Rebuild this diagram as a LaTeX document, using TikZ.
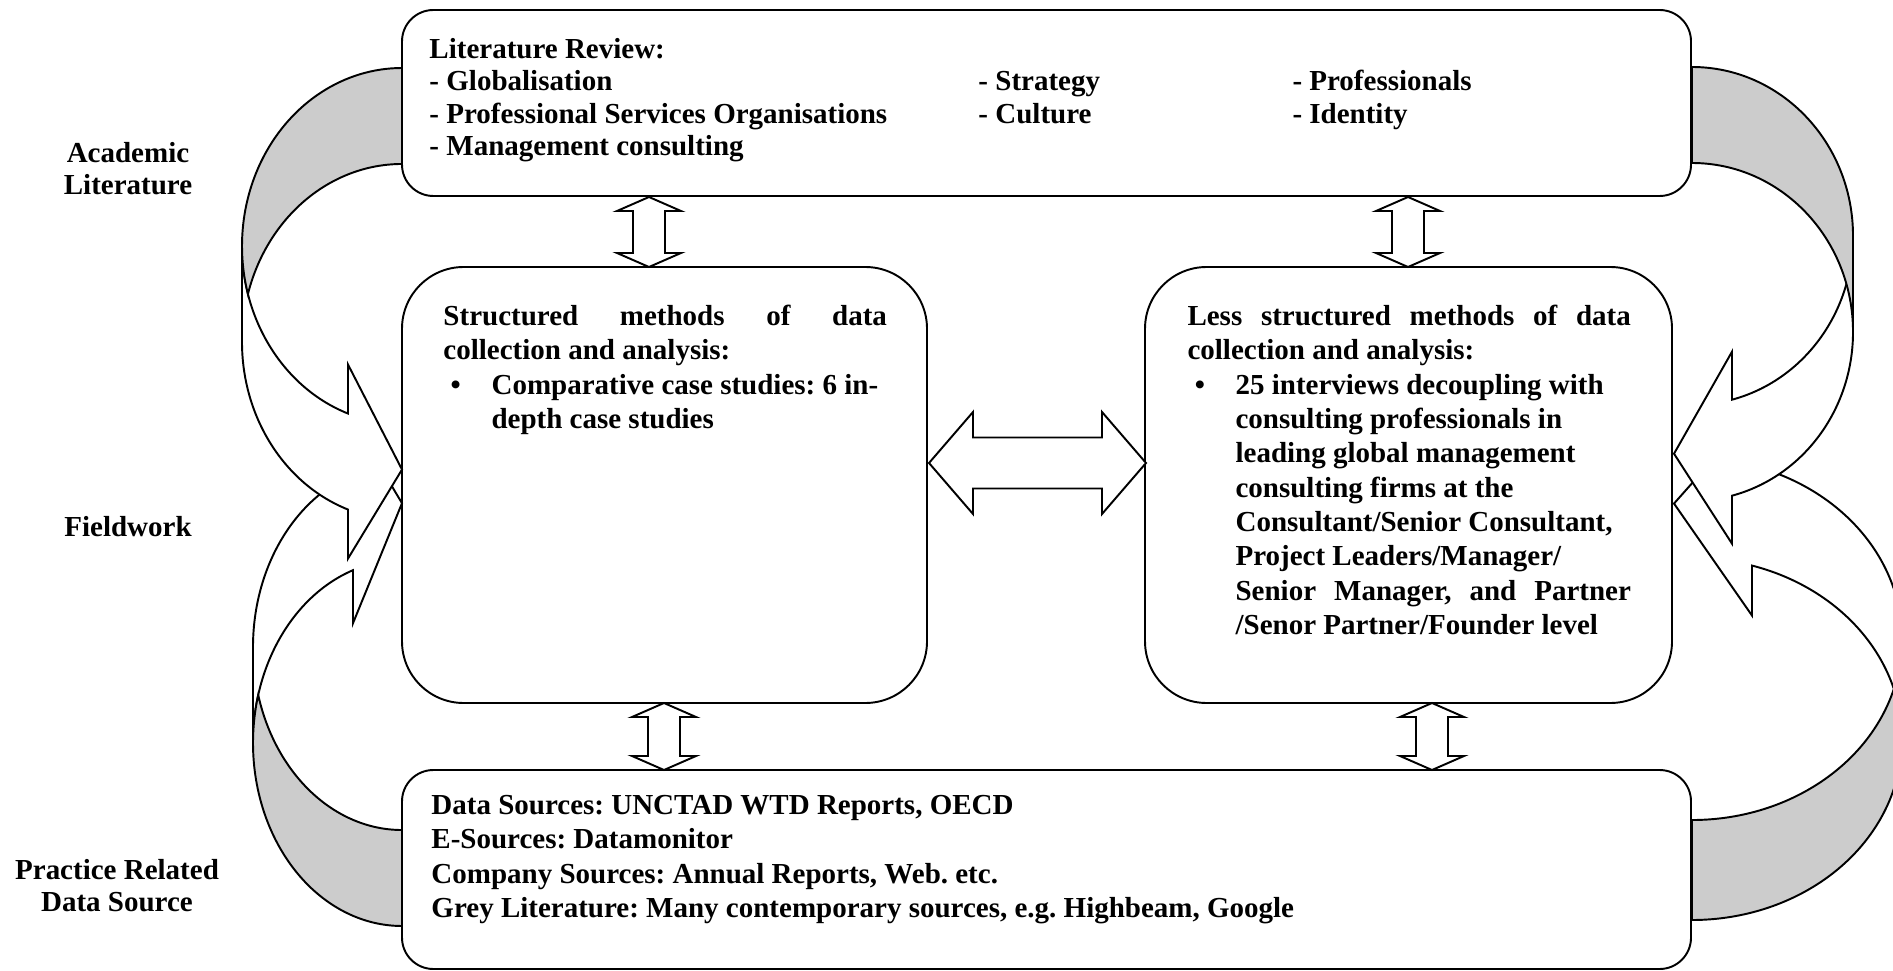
\documentclass[tikz,border=0pt]{standalone}
\usepackage{fontspec}
\setmainfont{Liberation Serif}
\usetikzlibrary{fit}
\frenchspacing

\definecolor{bandgray}{HTML}{CCCCCC}

\newcommand{\boxfont}[1]{\fontsize{12}{#1}\selectfont\bfseries}

% front face of a bent band arrow: w, hR, th, ah, dh, tip dx, tip dy
\newcommand{\bentfront}[7]{%
  \filldraw[bandfront] (-#1,#2) arc[start angle=180, end angle={180-acos(#4/#1)}, x radius=#1, y radius=#2]
    -- ++(0,-#5) -- ++({#4+#6},{#5+#3/2+#7}) -- ++({-#4-#6},{#5+#3/2-#7}) -- ++(0,-#5)
    arc[start angle={180-acos(#4/#1)}, end angle=180, x radius=#1, y radius=#2] -- cycle;}
% shaded back face, ending in a point
\newcommand{\bentlens}[3]{%
  \filldraw[bandback] (0,0) arc[start angle=270, end angle={180-asin(#3/(2*#2))}, x radius=#1, y radius=#2]
    arc[start angle={180+asin(#3/(2*#2))}, end angle=270, x radius=#1, y radius=#2] -- cycle;}
% shaded back face, with the outer strip
\newcommand{\bentback}[3]{%
  \filldraw[bandback] (0,0) arc[start angle=270, end angle=180, x radius=#1, y radius=#2] -- ++(0,#3)
    arc[start angle=180, end angle=270, x radius=#1, y radius=#2] -- cycle;}

\newcommand{\vblockarrow}[3]{%
  \filldraw[blockarrow] (#1,#2) -- ({#1+32},{#2+14}) -- ({#1+16},{#2+14}) -- ({#1+16},{#3-14})
    -- ({#1+32},{#3-14}) -- (#1,#3) -- ({#1-32},{#3-14}) -- ({#1-16},{#3-14})
    -- ({#1-16},{#2+14}) -- ({#1-32},{#2+14}) -- cycle;}
\newcommand{\hblockarrow}[3]{%
  \filldraw[blockarrow] (#1,#3) -- ({#1+44},{#3-51}) -- ({#1+44},{#3-25.5}) -- ({#2-44},{#3-25.5})
    -- ({#2-44},{#3-51}) -- (#2,#3) -- ({#2-44},{#3+51}) -- ({#2-44},{#3+25.5})
    -- ({#1+44},{#3+25.5}) -- ({#1+44},{#3+51}) -- cycle;}

\tikzset{
	roundbox/.style={
			draw=black,
			line width=0.8pt,
			inner sep=0pt,
			rounded corners=13pt
		},
	bigroundbox/.style={
			roundbox,
			rounded corners=25.5pt
		},
	bandfront/.style={draw=black, fill=white, line width=0.8pt},
	bandback/.style={draw=black, fill=bandgray, line width=0.8pt},
	blockarrow/.style={draw=black, fill=white, line width=0.8pt},
	sidelabel/.style={
			font=\boxfont{13.2pt},
			align=center,
			inner sep=0pt
		},
	listtext/.style={
			anchor=north west,
			inner sep=0pt,
			align=left
		},
	methodtext/.style={
			anchor=north west,
			inner sep=0pt,
			text width=183.5pt,
			align=justify,
			font=\boxfont{14.2pt}
		}
}

\begin{document}
\begin{tikzpicture}[x=0.4138pt, y=-0.4138pt]
  \useasboundingbox (0,0) rectangle (1893,971);
  \clip (0,0) rectangle (1893,971);

  % boxes
  \node[roundbox, fit={(402,10) (1691,196)}] (litbox) {};
  \node[bigroundbox, fit={(402,267) (927,703)}] (structbox) {};
  \node[bigroundbox, fit={(1145,267) (1672,703)}] (lessbox) {};
  \node[roundbox, fit={(402,770) (1691,969)}] (databox) {};

  % bent arrows, left side
  \begin{scope}[shift={(402,926)}, yscale=-1]
    \bentfront{149}{183}{96}{49}{53}{0}{19}
    \bentlens{149}{183}{96}
  \end{scope}
  \begin{scope}[shift={(402,68)}]
    \bentfront{160}{178}{96}{54}{49}{0}{8}
    \bentlens{160}{178}{96}
  \end{scope}

  % bent arrows, right side
  \begin{scope}[shift={(1692,920)}, xscale=-1, yscale=-1]
    \bentfront{210}{181}{100}{60}{50}{18}{12}
    \bentlens{210}{181}{100}
  \end{scope}
  \begin{scope}[shift={(1692,67)}, xscale=-1]
    \bentfront{161}{169}{96}{40}{48}{18}{6}
    \bentback{161}{169}{96}
  \end{scope}

  % double arrows
  \vblockarrow{649}{197}{267}
  \vblockarrow{1408}{197}{267}
  \vblockarrow{664}{703}{770}
  \vblockarrow{1432}{703}{770}
  \hblockarrow{929}{1146}{463}

  % texts
  \node[listtext, font=\boxfont{13.5pt}] (litcol1) at (429,34.7) {\strut Literature Review:\\- Globalisation\\- Professional Services Organisations\\- Management consulting};
  \node[listtext, font=\boxfont{13.5pt}] (litcol2) at (978,67.2) {\strut - Strategy\\- Culture};
  \node[listtext, font=\boxfont{13.5pt}] (litcol3) at (1292,67.2) {\strut - Professionals\\- Identity};

  \node[methodtext] (structtext) at (443,301) {\noindent\strut Structured methods of data\linebreak collection and analysis:\par
    \noindent\makebox[19.9pt][l]{\hspace{3pt}\textbullet}\parbox[t]{163.6pt}{Comparative case studies: 6 in-\\depth case studies}};
  \node[methodtext] (lesstext) at (1187,301) {\noindent\strut Less structured methods of data\linebreak collection and analysis:\par
    \noindent\makebox[19.9pt][l]{\hspace{3pt}\textbullet}\parbox[t]{163.6pt}{25 interviews decoupling with\\consulting professionals in\\leading global management\\consulting firms at the\\Consultant/Senior Consultant,\\Project Leaders/Manager/\\Senior Manager, and Partner\linebreak /Senor Partner/Founder level}};

  \node[listtext, font=\boxfont{14.2pt}] (datatext) at (431,790) {\strut Data Sources: UNCTAD WTD Reports, OECD\\E-Sources: Datamonitor\\Company Sources: Annual Reports, Web. etc.\\Grey Literature: Many contemporary sources, e.g. Highbeam, Google};

  \node[sidelabel, anchor=north] (acadlabel) at (128,139.7) {\strut Academic\\Literature};
  \node[sidelabel, anchor=base] (fieldlabel) at (128,536) {Fieldwork};
  \node[sidelabel, anchor=north] (practlabel) at (117,856.7) {\strut Practice Related\\Data Source};

\end{tikzpicture}
\end{document}
